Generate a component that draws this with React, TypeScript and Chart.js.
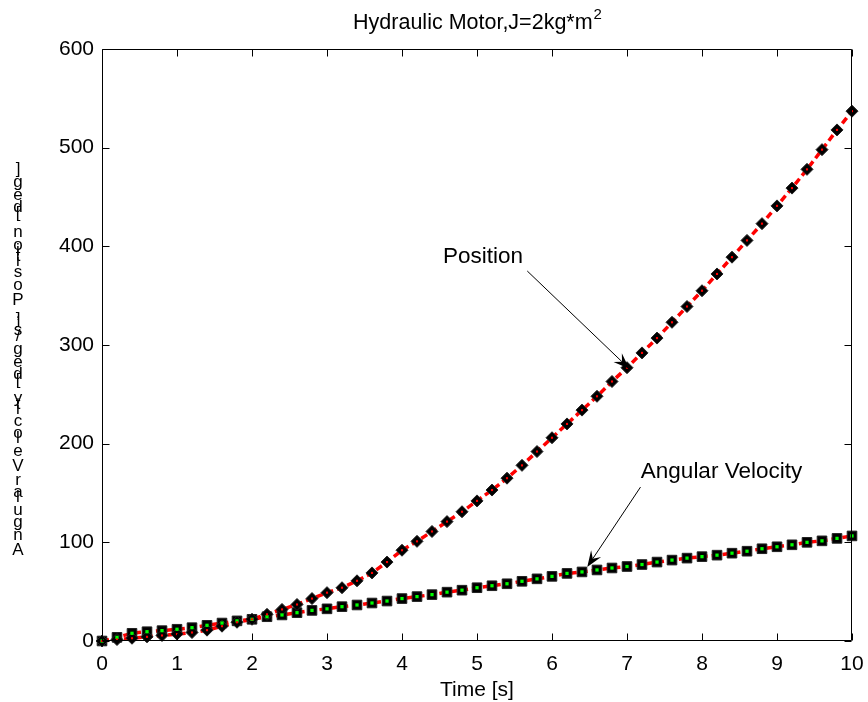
import React, { useEffect, useRef } from 'react';
import { Chart, registerables } from 'chart.js';

Chart.register(...registerables);

const timeValues = [
  0, 0.2, 0.4, 0.6, 0.8, 1, 1.2, 1.4, 1.6, 1.8, 2, 2.2, 2.4, 2.6, 2.8, 3, 3.2, 3.4, 3.6, 3.8,
  4, 4.2, 4.4, 4.6, 4.8, 5, 5.2, 5.4, 5.6, 5.8, 6, 6.2, 6.4, 6.6, 6.8, 7, 7.2, 7.4, 7.6, 7.8,
  8, 8.2, 8.4, 8.6, 8.8, 9, 9.2, 9.4, 9.6, 9.8, 10,
];

const positionValues = [
  0, 1.5, 2.8, 4.2, 5.6, 7, 8.6, 11, 15, 19, 22, 27, 32, 37, 43, 49, 54, 61, 69, 80,
  92, 101, 111, 121, 131, 142, 153, 165, 178, 192, 206, 220, 234, 248, 263, 277, 292, 307, 323, 339,
  355, 372, 389, 406, 423, 441, 459, 478, 498, 518, 537,
];

const velocityValues = [
  0, 3.7, 7.8, 9.4, 10.5, 11.9, 13.5, 15.9, 18.2, 20.4, 22, 24.6, 26.4, 28.7, 31, 32.6, 34.8, 36.5, 38.5, 40.5,
  43, 45, 47, 49.5, 51.5, 54, 56, 58, 60.5, 63, 65.5, 68.5, 70, 72, 74, 75.5, 77.5, 80, 82, 84,
  85.5, 87, 89, 91, 93.5, 95.5, 97.5, 100, 101.5, 104, 106.5,
];

const xTickValues = [0, 1, 2, 3, 4, 5, 6, 7, 8, 9, 10];
const yTickValues = [0, 100, 200, 300, 400, 500, 600];

const chartTitle = 'Hydraulic Motor,J=2kg*m';
const chartTitleSuperscript = '2';
const xAxisTitle = 'Time [s]';
const yAxisTitle = 'Angular Velocity [deg/s], Position [deg]';
const positionLabel = 'Position';
const velocityLabel = 'Angular Velocity';

// annotation anchors in data coordinates [time, value]
const positionLabelAt = [5.08, 389];
const positionArrowFrom = [5.67, 375];
const positionArrowTo = [7.03, 276];
const velocityLabelAt = [8.26, 171];
const velocityArrowFrom = [7.18, 156];
const velocityArrowTo = [6.47, 75];

const FONT = "'Liberation Sans', Arial, Helvetica, sans-serif";

function drawArrow(ctx: CanvasRenderingContext2D, x1: number, y1: number, x2: number, y2: number) {
  const ang = Math.atan2(y2 - y1, x2 - x1);
  const len = 16;
  const half = 6;
  const notch = 10;
  ctx.save();
  ctx.strokeStyle = '#000';
  ctx.fillStyle = '#000';
  ctx.lineWidth = 1;
  ctx.beginPath();
  ctx.moveTo(x1, y1);
  ctx.lineTo(x2 - Math.cos(ang) * notch, y2 - Math.sin(ang) * notch);
  ctx.stroke();
  const bx = x2 - Math.cos(ang) * len;
  const by = y2 - Math.sin(ang) * len;
  const nx = x2 - Math.cos(ang) * notch;
  const ny = y2 - Math.sin(ang) * notch;
  const px = -Math.sin(ang);
  const py = Math.cos(ang);
  ctx.beginPath();
  ctx.moveTo(x2, y2);
  ctx.lineTo(bx + px * half, by + py * half);
  ctx.lineTo(nx, ny);
  ctx.lineTo(bx - px * half, by - py * half);
  ctx.closePath();
  ctx.fill();
  ctx.restore();
}

const overlayPlugin = {
  id: 'matlabOverlay',
  afterDraw(chart: any) {
    const ctx: CanvasRenderingContext2D = chart.ctx;
    const { left, right, top, bottom } = chart.chartArea;
    const xs = chart.scales.x;
    const ys = chart.scales.y;
    const L = Math.round(left) + 0.5;
    const R = Math.round(right) - 0.5;
    const T = Math.round(top) + 0.5;
    const B = Math.round(bottom) - 0.5;
    ctx.save();
    ctx.strokeStyle = '#000';
    ctx.lineWidth = 1;
    ctx.beginPath();
    ctx.rect(L, T, R - L, B - T);
    ctx.stroke();
    const tl = 7;
    ctx.beginPath();
    xTickValues.forEach((v) => {
      const px = Math.round(xs.getPixelForValue(v)) + 0.5;
      ctx.moveTo(px, B);
      ctx.lineTo(px, B - tl);
      ctx.moveTo(px, T);
      ctx.lineTo(px, T + tl);
    });
    yTickValues.forEach((v) => {
      const py = Math.round(ys.getPixelForValue(v)) + 0.5;
      ctx.moveTo(L, py);
      ctx.lineTo(L + tl, py);
      ctx.moveTo(R, py);
      ctx.lineTo(R - tl, py);
    });
    ctx.stroke();

    // title with superscript
    ctx.fillStyle = '#000';
    ctx.textBaseline = 'alphabetic';
    ctx.font = `21.5px ${FONT}`;
    const mainW = ctx.measureText(chartTitle).width;
    ctx.font = `15px ${FONT}`;
    const supW = ctx.measureText(chartTitleSuperscript).width;
    const cx = (left + right) / 2;
    const startX = cx - (mainW + supW) / 2;
    ctx.font = `21.5px ${FONT}`;
    ctx.textAlign = 'left';
    ctx.fillText(chartTitle, startX, 29);
    ctx.font = `15px ${FONT}`;
    ctx.fillText(chartTitleSuperscript, startX + mainW + 1, 19);

    // x axis title
    ctx.font = `21px ${FONT}`;
    ctx.textAlign = 'center';
    ctx.textBaseline = 'middle';
    ctx.fillText(xAxisTitle, cx, 690);

    // y axis title: upright glyphs stacked bottom to top
    const advSize = 22.6;
    const glyphSize = 17;
    let cursor = 555;
    const colX = 18;
    ctx.textBaseline = 'alphabetic';
    ctx.textAlign = 'center';
    for (const ch of yAxisTitle) {
      ctx.font = `${advSize}px ${FONT}`;
      const w = ctx.measureText(ch).width;
      ctx.font = `${glyphSize}px ${FONT}`;
      if (ch !== ' ') ctx.fillText(ch, colX, cursor);
      cursor -= w;
    }

    // annotations
    const P = (p: number[]) => [xs.getPixelForValue(p[0]), ys.getPixelForValue(p[1])];
    ctx.font = `22.5px ${FONT}`;
    ctx.textAlign = 'center';
    ctx.textBaseline = 'middle';
    const pl = P(positionLabelAt);
    ctx.fillText(positionLabel, pl[0], pl[1]);
    const vl = P(velocityLabelAt);
    ctx.fillText(velocityLabel, vl[0], vl[1]);
    const pa = P(positionArrowFrom);
    const pb = P(positionArrowTo);
    drawArrow(ctx, pa[0], pa[1], pb[0], pb[1]);
    const va = P(velocityArrowFrom);
    const vb = P(velocityArrowTo);
    drawArrow(ctx, va[0], va[1], vb[0], vb[1]);
    ctx.restore();
  },
};

export default function App() {
  const canvasRef = useRef<HTMLCanvasElement | null>(null);

  useEffect(() => {
    const canvas = canvasRef.current;
    if (!canvas) return;
    const posPts = timeValues.map((t, i) => ({ x: t, y: positionValues[i] }));
    const velPts = timeValues.map((t, i) => ({ x: t, y: velocityValues[i] }));
    const lineDs = (data: any[]) => ({
      data,
      borderColor: '#ff0000',
      borderWidth: 3.5,
      borderDash: [7, 4],
      pointRadius: 0,
      fill: false,
      tension: 0,
      clip: false as any,
      order: 3,
    });
    const chart = new Chart(canvas, {
      type: 'scatter',
      data: {
        datasets: [
          { ...lineDs(posPts), showLine: true, label: 'pos-line' } as any,
          { ...lineDs(velPts), showLine: true, label: 'vel-line' } as any,
          {
            label: 'pos-marker',
            data: posPts,
            showLine: false,
            pointStyle: 'rectRot',
            pointRadius: 6,
            pointBackgroundColor: '#000',
            pointBorderColor: '#222',
            pointBorderWidth: 1,
            clip: false,
            order: 2,
          } as any,
          {
            label: 'vel-marker',
            data: velPts,
            showLine: false,
            pointStyle: 'rect',
            pointRadius: 6.8,
            pointBackgroundColor: '#000',
            pointBorderColor: '#222',
            pointBorderWidth: 1,
            clip: false,
            order: 2,
          } as any,
          {
            label: 'pos-dot',
            data: posPts,
            showLine: false,
            pointStyle: 'rect',
            pointRadius: 1.5,
            pointBackgroundColor: '#ff0000',
            pointBorderWidth: 0,
            clip: false,
            order: 1,
          } as any,
          {
            label: 'vel-dot',
            data: velPts,
            showLine: false,
            pointStyle: 'rect',
            pointRadius: 2.3,
            pointBackgroundColor: '#00ff00',
            pointBorderWidth: 0,
            clip: false,
            order: 1,
          } as any,
        ],
      },
      options: {
        animation: false,
        responsive: false,
        maintainAspectRatio: false,
        events: [],
        layout: { padding: { top: 49, right: 16, left: 0, bottom: 0 } },
        plugins: {
          legend: { display: false },
          tooltip: { enabled: false },
          title: { display: false },
        },
        scales: {
          x: {
            type: 'linear',
            min: 0,
            max: 10,
            afterFit: (s: any) => {
              s.height = 61;
              s.paddingLeft = 0;
              s.paddingRight = 0;
            },
            afterBuildTicks: (s: any) => {
              s.ticks = xTickValues.map((v) => ({ value: v }));
            },
            ticks: {
              color: '#000',
              font: { family: FONT, size: 21 },
              padding: 11,
              maxRotation: 0,
              autoSkip: false,
            },
            grid: { display: false, drawTicks: false },
            border: { display: false },
          },
          y: {
            type: 'linear',
            min: 0,
            max: 600,
            afterFit: (s: any) => {
              s.width = 102;
              s.paddingTop = 0;
              s.paddingBottom = 0;
            },
            afterBuildTicks: (s: any) => {
              s.ticks = yTickValues.map((v) => ({ value: v }));
            },
            ticks: {
              color: '#000',
              font: { family: FONT, size: 21 },
              padding: 8,
              autoSkip: false,
            },
            grid: { display: false, drawTicks: false },
            border: { display: false },
          },
        },
      } as any,
      plugins: [overlayPlugin],
    });
    return () => chart.destroy();
  }, []);

  return (
    <div style={{ position: 'fixed', left: 0, top: 0, width: 868, height: 702, background: '#fff' }}>
      <canvas ref={canvasRef} width={868} height={702} style={{ width: 868, height: 702, display: 'block' }} />
    </div>
  );
}
